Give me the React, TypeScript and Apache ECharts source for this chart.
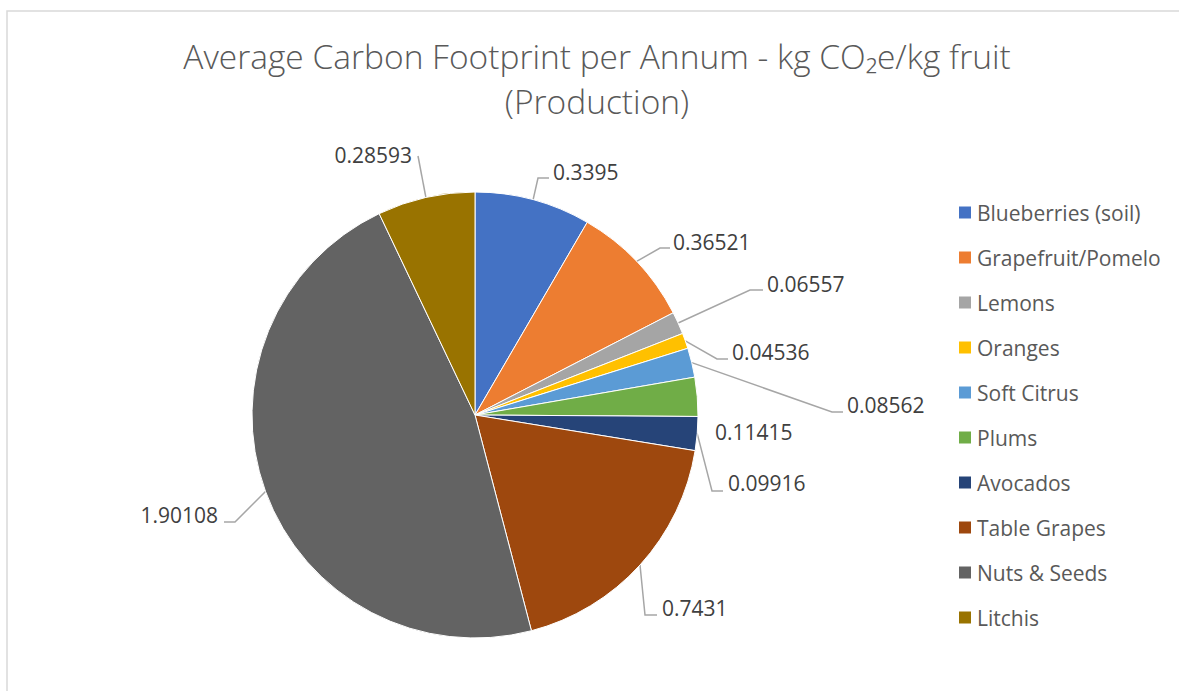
import React, { useEffect, useRef } from "react";
import * as echarts from "echarts";

const categories = [
  "Blueberries (soil)",
  "Grapefruit/Pomelo",
  "Lemons",
  "Oranges",
  "Soft Citrus",
  "Plums",
  "Avocados",
  "Table Grapes",
  "Nuts & Seeds",
  "Litchis",
];
const values = [0.3395, 0.36521, 0.06557, 0.04536, 0.08562, 0.11415, 0.09916, 0.7431, 1.90108, 0.28593];
const colors = ["#4472C4", "#ED7D31", "#A5A5A5", "#FFC000", "#5B9BD5", "#70AD47", "#264478", "#9E480E", "#636363", "#997300"];
const titleText = "Average Carbon Footprint per Annum - kg CO\u2082e/kg fruit\n(Production)";

// Label placement (layout only): text anchor x, text centre y, alignment, leader-line bend points
const labelPlacement: { x: number; y: number; align: string; bend: number[][] }[] = [
  { x: 553, y: 172, align: "left", bend: [[538, 178], [549, 178]] },
  { x: 673, y: 242, align: "left", bend: [[660, 248], [670, 248]] },
  { x: 767, y: 284, align: "left", bend: [[750, 290], [763, 290]] },
  { x: 732, y: 352, align: "left", bend: [[717, 359], [728, 359]] },
  { x: 847, y: 405, align: "left", bend: [[832, 412], [843, 412]] },
  { x: 715, y: 432, align: "left", bend: [] },
  { x: 728, y: 483, align: "left", bend: [[712, 491], [723, 491]] },
  { x: 662, y: 608, align: "left", bend: [[645, 615], [657, 615]] },
  { x: 218, y: 515, align: "right", bend: [[235, 522], [224, 522]] },
  { x: 412, y: 155, align: "right", bend: [[418, 156], [418, 156]] },
];

const FONT = "'Open Sans', Lato, sans-serif";
const CX = 475;
const CY = 415;
const R = 223;

export default function App() {
  const ref = useRef<HTMLDivElement>(null);
  useEffect(() => {
    if (!ref.current) return;
    const chart = echarts.init(ref.current, undefined, { renderer: "svg" });
    const total = values.reduce((a, b) => a + b, 0);
    const edge = (i: number) => {
      let before = 0;
      for (let k = 0; k < i; k++) before += values[k];
      const a = ((before + values[i] / 2) / total) * Math.PI * 2;
      return [CX + R * Math.sin(a), CY - R * Math.cos(a)];
    };
    chart.setOption({
      animation: false,
      backgroundColor: "#ffffff",
      title: {
        text: titleText,
        left: 597,
        top: 33,
        padding: 0,
        textAlign: "center",
        textStyle: {
          fontFamily: FONT,
          fontWeight: 300,
          fontSize: 33.5,
          color: "#595959",
          lineHeight: 45,
        },
      },
      graphic: [
        {
          type: "rect",
          shape: { x: 7, y: 11, width: 1300, height: 800 },
          style: { fill: "none", stroke: "#d9d9d9", lineWidth: 1.5 },
          silent: true,
        },
      ],
      legend: {
        orient: "vertical",
        left: 957,
        top: 202,
        padding: 0,
        itemWidth: 14,
        itemHeight: 14,
        itemGap: 24,
        icon: "rect",
        textStyle: { fontFamily: FONT, fontSize: 21, lineHeight: 21, color: "#595959" },
        data: categories,
      },
      series: [
        {
          type: "pie",
          center: [CX, CY],
          radius: R,
          startAngle: 90,
          clockwise: true,
          data: categories.map((c, i) => ({
            name: c,
            value: values[i],
            itemStyle: { color: colors[i] },
            labelLine: { show: labelPlacement[i].bend.length > 0 },
          })),
          itemStyle: { borderColor: "#ffffff", borderWidth: 1 },
          label: {
            show: true,
            position: "outside",
            formatter: (p: any) => String(p.value),
            fontFamily: FONT,
            fontSize: 21,
            color: "#404040",
          },
          labelLine: {
            show: true,
            length: 20,
            length2: 10,
            lineStyle: { color: "#a6a6a6", width: 1.5 },
          },
          labelLayout: (params: any) => {
            const i = params.dataIndex;
            const p = labelPlacement[i];
            const res: any = {
              x: p.x,
              y: p.y,
              align: p.align,
              verticalAlign: "middle",
              hideOverlap: false,
              moveOverlap: null,
            };
            if (p.bend.length) {
              res.labelLinePoints = [edge(i), p.bend[0], p.bend[1]];
            }
            return res;
          },
        },
      ],
    });
    return () => chart.dispose();
  }, []);
  return (
    <div
      ref={ref}
      style={{ position: "absolute", left: 0, top: 0, width: 1179, height: 691, background: "#fff" }}
    />
  );
}
